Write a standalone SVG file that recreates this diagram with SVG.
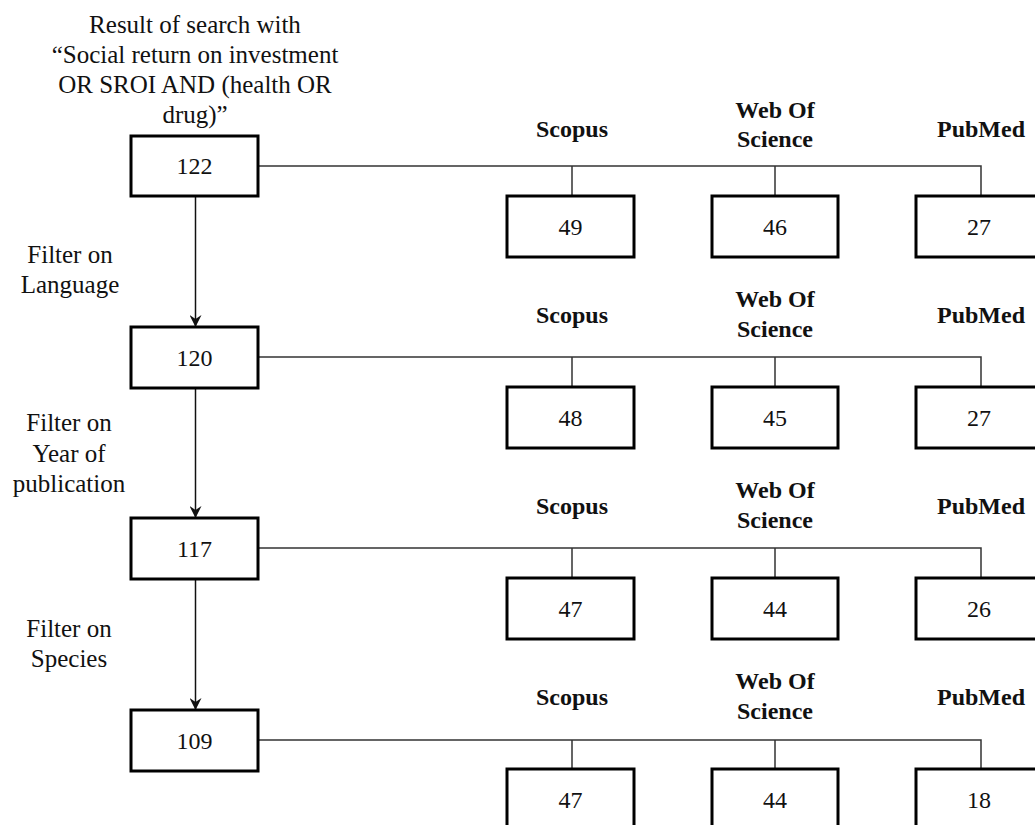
<svg xmlns="http://www.w3.org/2000/svg" width="1035" height="825" viewBox="0 0 1035 825">
<defs>
<style>
.box{fill:#fff;stroke:#000;stroke-width:3}
.num{font-family:"Liberation Serif","Times New Roman",serif;font-size:24px;fill:#111;text-anchor:middle}
.lbl{font-family:"Liberation Serif","Times New Roman",serif;font-size:25px;fill:#111;text-anchor:middle}
.db{font-family:"Liberation Serif","Times New Roman",serif;font-size:24px;font-weight:bold;fill:#111;text-anchor:middle}
.ln{fill:none;stroke:#333;stroke-width:1.5}
.ar{fill:none;stroke:#111;stroke-width:1.5}
</style>
<marker id="ah" viewBox="0 0 12 12" refX="11" refY="6" markerWidth="12" markerHeight="12" markerUnits="userSpaceOnUse" orient="auto">
<path d="M0,0 L12,6 L0,12 L4,6 Z" fill="#111"/>
</marker>
</defs>
<rect width="1035" height="825" fill="#fff"/>

<g id="labels">
<text class="lbl" x="195" y="33">Result of search with</text>
<text class="lbl" x="195" y="63">“Social return on investment</text>
<text class="lbl" x="195" y="93">OR SROI AND (health OR</text>
<text class="lbl" x="195" y="123">drug)”</text>
<text class="lbl" x="70" y="263">Filter on</text>
<text class="lbl" x="70" y="293">Language</text>
<text class="lbl" x="69" y="431">Filter on</text>
<text class="lbl" x="69" y="462">Year of</text>
<text class="lbl" x="69" y="492">publication</text>
<text class="lbl" x="69" y="637">Filter on</text>
<text class="lbl" x="69" y="667">Species</text>
</g>

<g id="connectors">
<line class="ar" x1="195.5" y1="196" x2="195.5" y2="326" marker-end="url(#ah)"/>
<line class="ar" x1="195.5" y1="388" x2="195.5" y2="517" marker-end="url(#ah)"/>
<line class="ar" x1="195.5" y1="579" x2="195.5" y2="709" marker-end="url(#ah)"/>
<path class="ln" d="M258,166 H981 V196 M572,166 V196 M775,166 V196"/>
<path class="ln" d="M258,357 H981 V387 M572,357 V387 M775,357 V387"/>
<path class="ln" d="M258,548 H981 V578 M572,548 V578 M775,548 V578"/>
<path class="ln" d="M258,740 H981 V769 M572,740 V769 M775,740 V769"/>
</g>

<g id="n122"><rect class="box" x="131" y="136" width="127" height="60"/><text class="num" x="194.5" y="174">122</text></g>
<g id="n120"><rect class="box" x="131" y="327" width="127" height="61"/><text class="num" x="194.5" y="366">120</text></g>
<g id="n117"><rect class="box" x="131" y="518" width="127" height="61"/><text class="num" x="194.5" y="557">117</text></g>
<g id="n109"><rect class="box" x="131" y="710" width="127" height="61"/><text class="num" x="194.5" y="749">109</text></g>

<g id="row1-headers">
<text class="db" x="572" y="137">Scopus</text>
<text class="db" x="775" y="118">Web Of</text>
<text class="db" x="775" y="147">Science</text>
<text class="db" x="981" y="137">PubMed</text>
</g>
<g id="s49"><rect class="box" x="507" y="196" width="127" height="61"/><text class="num" x="570.5" y="235">49</text></g>
<g id="w46"><rect class="box" x="712" y="196" width="126" height="61"/><text class="num" x="775" y="235">46</text></g>
<g id="p27a"><rect class="box" x="916" y="196" width="130" height="61"/><text class="num" x="979" y="235">27</text></g>

<g id="row2-headers">
<text class="db" x="572" y="323">Scopus</text>
<text class="db" x="775" y="307">Web Of</text>
<text class="db" x="775" y="337">Science</text>
<text class="db" x="981" y="323">PubMed</text>
</g>
<g id="s48"><rect class="box" x="507" y="387" width="127" height="61"/><text class="num" x="570.5" y="426">48</text></g>
<g id="w45"><rect class="box" x="712" y="387" width="126" height="61"/><text class="num" x="775" y="426">45</text></g>
<g id="p27b"><rect class="box" x="916" y="387" width="130" height="61"/><text class="num" x="979" y="426">27</text></g>

<g id="row3-headers">
<text class="db" x="572" y="514">Scopus</text>
<text class="db" x="775" y="498">Web Of</text>
<text class="db" x="775" y="528">Science</text>
<text class="db" x="981" y="514">PubMed</text>
</g>
<g id="s47a"><rect class="box" x="507" y="578" width="127" height="61"/><text class="num" x="570.5" y="617">47</text></g>
<g id="w44a"><rect class="box" x="712" y="578" width="126" height="61"/><text class="num" x="775" y="617">44</text></g>
<g id="p26"><rect class="box" x="916" y="578" width="130" height="61"/><text class="num" x="979" y="617">26</text></g>

<g id="row4-headers">
<text class="db" x="572" y="705">Scopus</text>
<text class="db" x="775" y="689">Web Of</text>
<text class="db" x="775" y="719">Science</text>
<text class="db" x="981" y="705">PubMed</text>
</g>
<g id="s47b"><rect class="box" x="507" y="769" width="127" height="70"/><text class="num" x="570.5" y="808">47</text></g>
<g id="w44b"><rect class="box" x="712" y="769" width="126" height="70"/><text class="num" x="775" y="808">44</text></g>
<g id="p18"><rect class="box" x="916" y="769" width="130" height="70"/><text class="num" x="979" y="808">18</text></g>
</svg>
